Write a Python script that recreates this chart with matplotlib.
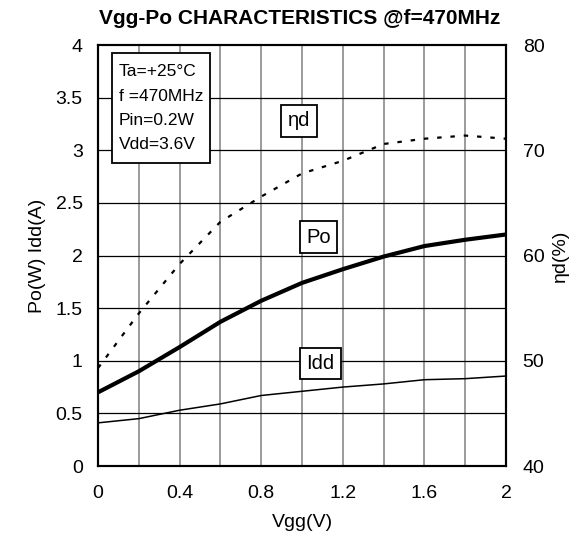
import matplotlib
matplotlib.use("Agg")
import matplotlib.pyplot as plt
from matplotlib.patches import Rectangle

plt.rcParams['font.family'] = ['Liberation Sans', 'DejaVu Sans']

vgg = [0.0, 0.2, 0.4, 0.6, 0.8, 1.0, 1.2, 1.4, 1.6, 1.8, 2.0]
po = [0.70, 0.90, 1.13, 1.37, 1.57, 1.74, 1.87, 1.99, 2.09, 2.15, 2.20]
idd = [0.41, 0.45, 0.53, 0.59, 0.67, 0.71, 0.75, 0.78, 0.82, 0.83, 0.855]
eta = [49.3, 54.5, 59.2, 63.2, 65.6, 67.8, 69.0, 70.6, 71.1, 71.4, 71.1]

x_ticks = [0, 0.4, 0.8, 1.2, 1.6, 2]
x_ticklabels = ['0', '0.4', '0.8', '1.2', '1.6', '2']
y_ticks = [0, 0.5, 1, 1.5, 2, 2.5, 3, 3.5, 4]
y_ticklabels = ['0', '0.5', '1', '1.5', '2', '2.5', '3', '3.5', '4']
y2_ticks = [40, 50, 60, 70, 80]
conditions = ['Ta=+25°C', 'f =470MHz', 'Pin=0.2W', 'Vdd=3.6V']

fig = plt.figure(figsize=(5.85, 5.43), dpi=100)
ax = fig.add_axes([0.1675, 0.1418, 0.6975, 0.7752])

# grid
for gx in [0.2 * i for i in range(1, 10)]:
    ax.axvline(gx, color='#808080', lw=1.1, zorder=1)
for gy in [0.5 * i for i in range(1, 8)]:
    ax.axhline(gy, color='black', lw=0.9, zorder=1)

ax.plot(vgg, po, color='black', lw=3, zorder=3)
ax.plot(vgg, idd, color='black', lw=1.1, zorder=3)

ax.set_xlim(0, 2)
ax.set_ylim(0, 4)
ax.set_xticks(x_ticks)
ax.set_xticklabels(x_ticklabels, fontsize=14)
ax.set_yticks(y_ticks)
ax.set_yticklabels(y_ticklabels, fontsize=14)
ax.tick_params(axis='x', length=0, pad=14)
ax.tick_params(axis='y', length=0, pad=11)
ax.set_xlabel('Vgg(V)', fontsize=14, labelpad=8)
ax.set_ylabel('Po(W) Idd(A)', fontsize=14, labelpad=7)
for s in ax.spines.values():
    s.set_linewidth(1.5)

ax2 = ax.twinx()
ax2.plot(vgg, eta, color='black', lw=1.6, linestyle=(0, (2, 4)), zorder=3)
ax2.set_ylim(40, 80)
ax2.set_yticks(y2_ticks)
ax2.set_yticklabels([str(v) for v in y2_ticks], fontsize=14)
ax2.tick_params(length=0, pad=12)
ax2.set_ylabel('ηd(%)', fontsize=14, labelpad=5, rotation=90)
for s in ax2.spines.values():
    s.set_linewidth(1.5)

# conditions box
ax.add_patch(Rectangle((0.0686, 2.879), 0.480, 1.045, facecolor='white',
                       edgecolor='black', lw=1.3, zorder=5))
ax.text(0.103, 3.40, '\n'.join(conditions), fontsize=12.5, ha='left', va='center',
        linespacing=1.78, zorder=6)

box = dict(boxstyle='square,pad=0.32', facecolor='white', edgecolor='black', lw=1.3)
ax.text(0.985, 3.28, 'ηd', fontsize=14.5, ha='center', va='center', bbox=box, zorder=5)
ax.text(1.08, 2.176, 'Po', fontsize=14.5, ha='center', va='center', bbox=box, zorder=5)
ax.text(1.09, 0.974, 'Idd', fontsize=14.5, ha='center', va='center', bbox=box, zorder=5)

fig.text(0.513, 0.966, 'Vgg-Po CHARACTERISTICS @f=470MHz', fontsize=15,
         fontweight='bold', ha='center', va='center')

fig.savefig('out.png', dpi=100)
